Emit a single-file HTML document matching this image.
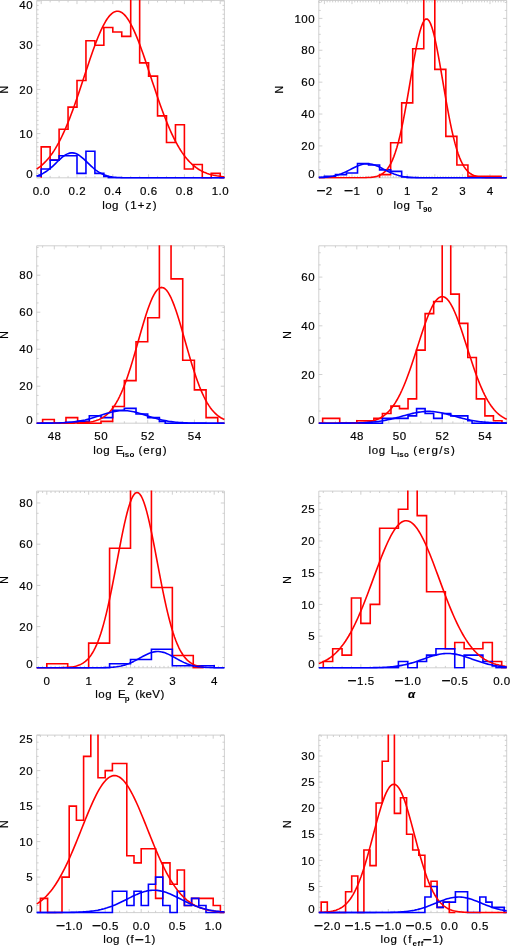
<!DOCTYPE html>
<html lang="en">
<head>
<meta charset="utf-8">
<title>Distributions</title>
<style>
html,body{margin:0;padding:0;background:#fff;}
body{width:510px;height:947px;overflow:hidden;}
svg{display:block;}
</style>
</head>
<body>
<svg width="510" height="947" viewBox="0 0 510 947">
<rect x="0" y="0" width="510" height="947" fill="#ffffff"/>
<defs>
<clipPath id="c0"><rect x="35.7" y="0" width="189.7" height="178.8"/></clipPath>
<clipPath id="c1"><rect x="317.8" y="0" width="189.9" height="178.8"/></clipPath>
<clipPath id="c2"><rect x="35.7" y="245.3" width="189.7" height="178.9"/></clipPath>
<clipPath id="c3"><rect x="317.8" y="245.3" width="189.9" height="178.9"/></clipPath>
<clipPath id="c4"><rect x="35.7" y="490.6" width="189.7" height="178.2"/></clipPath>
<clipPath id="c5"><rect x="317.8" y="490.6" width="189.9" height="178.2"/></clipPath>
<clipPath id="c6"><rect x="35.7" y="734.6" width="189.7" height="179"/></clipPath>
<clipPath id="c7"><rect x="317.8" y="734.6" width="189.9" height="179"/></clipPath>
</defs>
<g id="panel1">
<path d="M36.7 0.5H224.4V177.8H36.7ZM41.2 177.8v-3.6M41.2 0.5v3.6M50.15 177.8v-1.9M50.15 0.5v1.9M59.1 177.8v-1.9M59.1 0.5v1.9M68.05 177.8v-1.9M68.05 0.5v1.9M77 177.8v-3.6M77 0.5v3.6M85.95 177.8v-1.9M85.95 0.5v1.9M94.9 177.8v-1.9M94.9 0.5v1.9M103.85 177.8v-1.9M103.85 0.5v1.9M112.8 177.8v-3.6M112.8 0.5v3.6M121.75 177.8v-1.9M121.75 0.5v1.9M130.7 177.8v-1.9M130.7 0.5v1.9M139.65 177.8v-1.9M139.65 0.5v1.9M148.6 177.8v-3.6M148.6 0.5v3.6M157.55 177.8v-1.9M157.55 0.5v1.9M166.5 177.8v-1.9M166.5 0.5v1.9M175.45 177.8v-1.9M175.45 0.5v1.9M184.4 177.8v-3.6M184.4 0.5v3.6M193.35 177.8v-1.9M193.35 0.5v1.9M202.3 177.8v-1.9M202.3 0.5v1.9M211.25 177.8v-1.9M211.25 0.5v1.9M220.2 177.8v-3.6M220.2 0.5v3.6M36.7 177.8h3.6M224.4 177.8h-3.6M36.7 173.38h1.9M224.4 173.38h-1.9M36.7 168.96h1.9M224.4 168.96h-1.9M36.7 164.54h1.9M224.4 164.54h-1.9M36.7 160.12h1.9M224.4 160.12h-1.9M36.7 155.7h1.9M224.4 155.7h-1.9M36.7 151.28h1.9M224.4 151.28h-1.9M36.7 146.86h1.9M224.4 146.86h-1.9M36.7 142.44h1.9M224.4 142.44h-1.9M36.7 138.02h1.9M224.4 138.02h-1.9M36.7 133.6h3.6M224.4 133.6h-3.6M36.7 129.18h1.9M224.4 129.18h-1.9M36.7 124.76h1.9M224.4 124.76h-1.9M36.7 120.34h1.9M224.4 120.34h-1.9M36.7 115.92h1.9M224.4 115.92h-1.9M36.7 111.5h1.9M224.4 111.5h-1.9M36.7 107.08h1.9M224.4 107.08h-1.9M36.7 102.66h1.9M224.4 102.66h-1.9M36.7 98.24h1.9M224.4 98.24h-1.9M36.7 93.82h1.9M224.4 93.82h-1.9M36.7 89.4h3.6M224.4 89.4h-3.6M36.7 84.98h1.9M224.4 84.98h-1.9M36.7 80.56h1.9M224.4 80.56h-1.9M36.7 76.14h1.9M224.4 76.14h-1.9M36.7 71.72h1.9M224.4 71.72h-1.9M36.7 67.3h1.9M224.4 67.3h-1.9M36.7 62.88h1.9M224.4 62.88h-1.9M36.7 58.46h1.9M224.4 58.46h-1.9M36.7 54.04h1.9M224.4 54.04h-1.9M36.7 49.62h1.9M224.4 49.62h-1.9M36.7 45.2h3.6M224.4 45.2h-3.6M36.7 40.78h1.9M224.4 40.78h-1.9M36.7 36.36h1.9M224.4 36.36h-1.9M36.7 31.94h1.9M224.4 31.94h-1.9M36.7 27.52h1.9M224.4 27.52h-1.9M36.7 23.1h1.9M224.4 23.1h-1.9M36.7 18.68h1.9M224.4 18.68h-1.9M36.7 14.26h1.9M224.4 14.26h-1.9M36.7 9.84h1.9M224.4 9.84h-1.9M36.7 5.42h1.9M224.4 5.42h-1.9M36.7 1h3.6M224.4 1h-3.6" fill="none" stroke="#c8c8c8" stroke-width="0.85"/>
<g clip-path="url(#c0)" fill="none" stroke-width="1.6" stroke-linejoin="miter">
<path d="M41.2 177.8V146.86H50.15V160.12H59.1V129.18H68.05V107.08H77V80.56H85.95V40.78H94.9V45.2H103.85V27.52H112.8V31.94H121.75V36.36H130.7V-21.6H139.65V62.88H148.6V76.14H157.55V115.92H166.5V142.44H175.45V124.76H184.4V168.96H193.35V164.54H202.3V177.8H211.25V173.38H220.2V177.8H224.4" stroke="#ff0000"/>
<path d="M36.7 176.03H41.2V168.96H50.15V160.12H59.1V155.7H68.05V155.7H77V173.38H85.95V151.28H94.9V173.38H103.85V176.47H108.33V177.8H112.8V177.8H121.75V177.8H130.7V177.8H139.65V177.8H148.6V177.8H157.55V177.8H166.5V177.8H175.45V177.8H184.4V177.8H193.35V177.8H202.3V177.8H211.25V177.8H220.2V177.8H224.4" stroke="#0000ff"/>
<path d="M36.7 169L38.26 167.95L39.83 166.8L41.39 165.54L42.96 164.17L44.52 162.67L46.09 161.05L47.65 159.3L49.21 157.4L50.78 155.37L52.34 153.18L53.91 150.84L55.47 148.35L57.03 145.69L58.6 142.87L60.16 139.89L61.73 136.74L63.29 133.43L64.86 129.96L66.42 126.33L67.98 122.55L69.55 118.62L71.11 114.55L72.68 110.35L74.24 106.03L75.8 101.6L77.37 97.08L78.93 92.48L80.5 87.81L82.06 83.1L83.62 78.36L85.19 73.61L86.75 68.88L88.32 64.18L89.88 59.54L91.45 54.98L93.01 50.53L94.57 46.21L96.14 42.04L97.7 38.05L99.27 34.26L100.83 30.69L102.4 27.37L103.96 24.31L105.52 21.53L107.09 19.05L108.65 16.89L110.22 15.06L111.78 13.57L113.34 12.43L114.91 11.65L116.47 11.24L118.04 11.19L119.6 11.51L121.17 12.2L122.73 13.24L124.29 14.65L125.86 16.39L127.42 18.47L128.99 20.87L130.55 23.57L132.11 26.56L133.68 29.82L135.24 33.33L136.81 37.07L138.37 41.01L139.94 45.13L141.5 49.42L143.06 53.84L144.63 58.37L146.19 62.99L147.76 67.67L149.32 72.4L150.88 77.14L152.45 81.89L154.01 86.61L155.58 91.29L157.14 95.91L158.71 100.46L160.27 104.91L161.83 109.26L163.4 113.49L164.96 117.59L166.53 121.56L168.09 125.38L169.65 129.05L171.22 132.56L172.78 135.91L174.35 139.1L175.91 142.13L177.48 144.99L179.04 147.68L180.6 150.22L182.17 152.6L183.73 154.83L185.3 156.9L186.86 158.83L188.42 160.62L189.99 162.27L191.55 163.8L193.12 165.2L194.68 166.49L196.25 167.67L197.81 168.75L199.37 169.72L200.94 170.61L202.5 171.42L204.07 172.15L205.63 172.8L207.19 173.39L208.76 173.92L210.32 174.39L211.89 174.82L213.45 175.19L215.01 175.52L216.58 175.82L218.14 176.08L219.71 176.31L221.27 176.51L222.84 176.69L224.4 176.84" stroke="#ff0000" stroke-linejoin="round"/>
<path d="M36.7 175.88L38.26 175.41L39.83 174.84L41.39 174.17L42.96 173.41L44.52 172.53L46.09 171.54L47.65 170.44L49.21 169.23L50.78 167.92L52.34 166.53L53.91 165.07L55.47 163.57L57.03 162.05L58.6 160.54L60.16 159.08L61.73 157.7L63.29 156.43L64.86 155.31L66.42 154.37L67.98 153.64L69.55 153.13L71.11 152.87L72.68 152.85L74.24 153.09L75.8 153.57L77.37 154.27L78.93 155.19L80.5 156.29L82.06 157.54L83.62 158.91L85.19 160.36L86.75 161.87L88.32 163.39L89.88 164.89L91.45 166.36L93.01 167.76L94.57 169.08L96.14 170.3L97.7 171.41L99.27 172.41L100.83 173.31L102.4 174.09L103.96 174.76L105.52 175.34L107.09 175.83L108.65 176.24L110.22 176.57L111.78 176.85L113.34 177.07L114.91 177.24L116.47 177.38L118.04 177.48L119.6 177.57L121.17 177.63L122.73 177.68L124.29 177.71L125.86 177.74L127.42 177.76L128.99 177.77L130.55 177.78L132.11 177.79L133.68 177.79L135.24 177.79L136.81 177.8L138.37 177.8L139.94 177.8L141.5 177.8L143.06 177.8L144.63 177.8L146.19 177.8L147.76 177.8L149.32 177.8L150.88 177.8L152.45 177.8L154.01 177.8L155.58 177.8L157.14 177.8L158.71 177.8L160.27 177.8L161.83 177.8L163.4 177.8L164.96 177.8L166.53 177.8L168.09 177.8L169.65 177.8L171.22 177.8L172.78 177.8L174.35 177.8L175.91 177.8L177.48 177.8L179.04 177.8L180.6 177.8L182.17 177.8L183.73 177.8L185.3 177.8L186.86 177.8L188.42 177.8L189.99 177.8L191.55 177.8L193.12 177.8L194.68 177.8L196.25 177.8L197.81 177.8L199.37 177.8L200.94 177.8L202.5 177.8L204.07 177.8L205.63 177.8L207.19 177.8L208.76 177.8L210.32 177.8L211.89 177.8L213.45 177.8L215.01 177.8L216.58 177.8L218.14 177.8L219.71 177.8L221.27 177.8L222.84 177.8L224.4 177.8" stroke="#0000ff" stroke-linejoin="round"/>
</g>
<g fill="#000000" stroke="#000000" stroke-width="0.18" font-family="'Liberation Sans', sans-serif" font-size="11.5">
<text x="33.15" y="178.17" text-anchor="end" letter-spacing="0.55">0</text>
<text x="33.15" y="137.72" text-anchor="end" letter-spacing="0.55">10</text>
<text x="33.15" y="93.52" text-anchor="end" letter-spacing="0.55">20</text>
<text x="33.15" y="49.32" text-anchor="end" letter-spacing="0.55">30</text>
<text x="33.15" y="9.02" text-anchor="end" letter-spacing="0.55">40</text>
<text x="32.66" y="194.8" letter-spacing="0.55">0.0</text>
<text x="68.46" y="194.8" letter-spacing="0.55">0.2</text>
<text x="104.26" y="194.8" letter-spacing="0.55">0.4</text>
<text x="140.06" y="194.8" letter-spacing="0.55">0.6</text>
<text x="175.86" y="194.8" letter-spacing="0.55">0.8</text>
<text x="211.66" y="194.8" letter-spacing="0.55">1.0</text>
<text transform="translate(7.92 89.65) rotate(-90) scale(0.9 1)" text-anchor="middle">N</text>
<text y="209.3"><tspan x="102.31" letter-spacing="0.37">log</tspan><tspan x="125.11" letter-spacing="1.25">(1+z)</tspan></text>
</g>
</g>
<g id="panel2">
<path d="M318.8 0.5H506.7V177.8H318.8ZM318.88 177.8v-1.9M318.88 0.5v1.9M321.64 177.8v-1.9M321.64 0.5v1.9M324.4 177.8v-3.6M324.4 0.5v3.6M327.16 177.8v-1.9M327.16 0.5v1.9M329.92 177.8v-1.9M329.92 0.5v1.9M332.68 177.8v-1.9M332.68 0.5v1.9M335.44 177.8v-1.9M335.44 0.5v1.9M338.2 177.8v-1.9M338.2 0.5v1.9M340.96 177.8v-1.9M340.96 0.5v1.9M343.72 177.8v-1.9M343.72 0.5v1.9M346.48 177.8v-1.9M346.48 0.5v1.9M349.24 177.8v-1.9M349.24 0.5v1.9M352 177.8v-3.6M352 0.5v3.6M354.76 177.8v-1.9M354.76 0.5v1.9M357.52 177.8v-1.9M357.52 0.5v1.9M360.28 177.8v-1.9M360.28 0.5v1.9M363.04 177.8v-1.9M363.04 0.5v1.9M365.8 177.8v-1.9M365.8 0.5v1.9M368.56 177.8v-1.9M368.56 0.5v1.9M371.32 177.8v-1.9M371.32 0.5v1.9M374.08 177.8v-1.9M374.08 0.5v1.9M376.84 177.8v-1.9M376.84 0.5v1.9M379.6 177.8v-3.6M379.6 0.5v3.6M382.36 177.8v-1.9M382.36 0.5v1.9M385.12 177.8v-1.9M385.12 0.5v1.9M387.88 177.8v-1.9M387.88 0.5v1.9M390.64 177.8v-1.9M390.64 0.5v1.9M393.4 177.8v-1.9M393.4 0.5v1.9M396.16 177.8v-1.9M396.16 0.5v1.9M398.92 177.8v-1.9M398.92 0.5v1.9M401.68 177.8v-1.9M401.68 0.5v1.9M404.44 177.8v-1.9M404.44 0.5v1.9M407.2 177.8v-3.6M407.2 0.5v3.6M409.96 177.8v-1.9M409.96 0.5v1.9M412.72 177.8v-1.9M412.72 0.5v1.9M415.48 177.8v-1.9M415.48 0.5v1.9M418.24 177.8v-1.9M418.24 0.5v1.9M421 177.8v-1.9M421 0.5v1.9M423.76 177.8v-1.9M423.76 0.5v1.9M426.52 177.8v-1.9M426.52 0.5v1.9M429.28 177.8v-1.9M429.28 0.5v1.9M432.04 177.8v-1.9M432.04 0.5v1.9M434.8 177.8v-3.6M434.8 0.5v3.6M437.56 177.8v-1.9M437.56 0.5v1.9M440.32 177.8v-1.9M440.32 0.5v1.9M443.08 177.8v-1.9M443.08 0.5v1.9M445.84 177.8v-1.9M445.84 0.5v1.9M448.6 177.8v-1.9M448.6 0.5v1.9M451.36 177.8v-1.9M451.36 0.5v1.9M454.12 177.8v-1.9M454.12 0.5v1.9M456.88 177.8v-1.9M456.88 0.5v1.9M459.64 177.8v-1.9M459.64 0.5v1.9M462.4 177.8v-3.6M462.4 0.5v3.6M465.16 177.8v-1.9M465.16 0.5v1.9M467.92 177.8v-1.9M467.92 0.5v1.9M470.68 177.8v-1.9M470.68 0.5v1.9M473.44 177.8v-1.9M473.44 0.5v1.9M476.2 177.8v-1.9M476.2 0.5v1.9M478.96 177.8v-1.9M478.96 0.5v1.9M481.72 177.8v-1.9M481.72 0.5v1.9M484.48 177.8v-1.9M484.48 0.5v1.9M487.24 177.8v-1.9M487.24 0.5v1.9M490 177.8v-3.6M490 0.5v3.6M492.76 177.8v-1.9M492.76 0.5v1.9M495.52 177.8v-1.9M495.52 0.5v1.9M498.28 177.8v-1.9M498.28 0.5v1.9M501.04 177.8v-1.9M501.04 0.5v1.9M503.8 177.8v-1.9M503.8 0.5v1.9M506.56 177.8v-1.9M506.56 0.5v1.9M318.8 177.8h3.6M506.7 177.8h-3.6M318.8 169.83h1.9M506.7 169.83h-1.9M318.8 161.86h1.9M506.7 161.86h-1.9M318.8 153.89h1.9M506.7 153.89h-1.9M318.8 145.92h3.6M506.7 145.92h-3.6M318.8 137.95h1.9M506.7 137.95h-1.9M318.8 129.98h1.9M506.7 129.98h-1.9M318.8 122.01h1.9M506.7 122.01h-1.9M318.8 114.04h3.6M506.7 114.04h-3.6M318.8 106.07h1.9M506.7 106.07h-1.9M318.8 98.1h1.9M506.7 98.1h-1.9M318.8 90.13h1.9M506.7 90.13h-1.9M318.8 82.16h3.6M506.7 82.16h-3.6M318.8 74.19h1.9M506.7 74.19h-1.9M318.8 66.22h1.9M506.7 66.22h-1.9M318.8 58.25h1.9M506.7 58.25h-1.9M318.8 50.28h3.6M506.7 50.28h-3.6M318.8 42.31h1.9M506.7 42.31h-1.9M318.8 34.34h1.9M506.7 34.34h-1.9M318.8 26.37h1.9M506.7 26.37h-1.9M318.8 18.4h3.6M506.7 18.4h-3.6M318.8 10.43h1.9M506.7 10.43h-1.9M318.8 2.46h1.9M506.7 2.46h-1.9" fill="none" stroke="#c8c8c8" stroke-width="0.85"/>
<g clip-path="url(#c1)" fill="none" stroke-width="1.6" stroke-linejoin="miter">
<path d="M379.6 177.8V174.61H390.64V142.73H401.68V102.88H412.72V48.69H423.76V-7.47H434.8V69.41H445.84V136.36H456.88V165.05H467.92V176.21H478.96V176.21H490V176.21H501.04V177.8H506.7" stroke="#ff0000"/>
<path d="M318.8 177.4H324.4V176.21H335.44V174.61H346.48V173.02H357.52V163.45H368.56V165.05H379.6V169.83H390.64V171.42H401.68V177H407.2V177.8H412.72V177.8H423.76V177.8H434.8V177.8H445.84V177.8H456.88V177.8H467.92V177.8H478.96V177.8H490V177.8H501.04V177.8H506.7" stroke="#0000ff"/>
<path d="M318.88 177.8L320.41 177.8L321.94 177.8L323.47 177.8L325 177.8L326.53 177.8L328.06 177.8L329.59 177.8L331.12 177.8L332.65 177.8L334.18 177.8L335.7 177.8L337.23 177.8L338.76 177.8L340.29 177.8L341.82 177.8L343.35 177.8L344.88 177.8L346.41 177.8L347.94 177.8L349.47 177.8L351 177.8L352.53 177.79L354.06 177.79L355.59 177.79L357.12 177.78L358.65 177.77L360.18 177.76L361.71 177.74L363.24 177.72L364.77 177.68L366.29 177.63L367.82 177.56L369.35 177.47L370.88 177.34L372.41 177.16L373.94 176.93L375.47 176.63L377 176.24L378.53 175.73L380.06 175.09L381.59 174.27L383.12 173.24L384.65 171.97L386.18 170.41L387.71 168.52L389.24 166.24L390.77 163.53L392.3 160.34L393.83 156.62L395.36 152.34L396.88 147.46L398.41 141.97L399.94 135.84L401.47 129.11L403 121.79L404.53 113.93L406.06 105.62L407.59 96.93L409.12 88L410.65 78.96L412.18 69.96L413.71 61.18L415.24 52.79L416.77 44.97L418.3 37.9L419.83 31.75L421.36 26.67L422.89 22.79L424.42 20.2L425.95 18.98L427.47 19.15L429 20.72L430.53 23.63L432.06 27.82L433.59 33.18L435.12 39.57L436.65 46.84L438.18 54.82L439.71 63.33L441.24 72.18L442.77 81.2L444.3 90.23L445.83 99.12L447.36 107.72L448.89 115.93L450.42 123.66L451.95 130.84L453.48 137.42L455.01 143.39L456.54 148.73L458.06 153.46L459.59 157.6L461.12 161.18L462.65 164.25L464.18 166.85L465.71 169.02L467.24 170.83L468.77 172.31L470.3 173.52L471.83 174.49L473.36 175.26L474.89 175.87L476.42 176.35L477.95 176.72L479.48 177L481.01 177.21L482.54 177.37L484.07 177.49L485.6 177.58L487.12 177.64L488.65 177.69L490.18 177.72L491.71 177.75L493.24 177.76L494.77 177.78L496.3 177.78L497.83 177.79L499.36 177.79L500.89 177.8L502.42 177.8" stroke="#ff0000" stroke-linejoin="round"/>
<path d="M318.88 177.61L320.45 177.54L322.01 177.47L323.58 177.37L325.14 177.25L326.71 177.11L328.27 176.93L329.84 176.72L331.4 176.46L332.97 176.17L334.53 175.82L336.1 175.43L337.66 174.98L339.23 174.47L340.79 173.91L342.36 173.3L343.92 172.63L345.49 171.92L347.05 171.17L348.62 170.39L350.18 169.59L351.75 168.78L353.31 167.99L354.88 167.22L356.44 166.49L358.01 165.82L359.57 165.23L361.14 164.72L362.7 164.31L364.27 164.01L365.84 163.83L367.4 163.77L368.97 163.84L370.53 164.03L372.1 164.34L373.66 164.76L375.23 165.28L376.79 165.89L378.36 166.57L379.92 167.3L381.49 168.07L383.05 168.87L384.62 169.67L386.18 170.47L387.75 171.25L389.31 171.99L390.88 172.7L392.44 173.36L394.01 173.97L395.57 174.53L397.14 175.03L398.7 175.47L400.27 175.86L401.83 176.2L403.4 176.49L404.96 176.74L406.53 176.95L408.09 177.12L409.66 177.27L411.22 177.38L412.79 177.48L414.36 177.55L415.92 177.61L417.49 177.66L419.05 177.69L420.62 177.72L422.18 177.74L423.75 177.76L425.31 177.77L426.88 177.78L428.44 177.78L430.01 177.79L431.57 177.79L433.14 177.79L434.7 177.8L436.27 177.8L437.83 177.8L439.4 177.8L440.96 177.8L442.53 177.8L444.09 177.8L445.66 177.8L447.22 177.8L448.79 177.8L450.35 177.8L451.92 177.8L453.48 177.8L455.05 177.8L456.61 177.8L458.18 177.8L459.75 177.8L461.31 177.8L462.88 177.8L464.44 177.8L466.01 177.8L467.57 177.8L469.14 177.8L470.7 177.8L472.27 177.8L473.83 177.8L475.4 177.8L476.96 177.8L478.53 177.8L480.09 177.8L481.66 177.8L483.22 177.8L484.79 177.8L486.35 177.8L487.92 177.8L489.48 177.8L491.05 177.8L492.61 177.8L494.18 177.8L495.74 177.8L497.31 177.8L498.87 177.8L500.44 177.8L502 177.8L503.57 177.8L505.13 177.8L506.7 177.8" stroke="#0000ff" stroke-linejoin="round"/>
</g>
<g fill="#000000" stroke="#000000" stroke-width="0.18" font-family="'Liberation Sans', sans-serif" font-size="11.5">
<text x="315.25" y="178.17" text-anchor="end" letter-spacing="0.55">0</text>
<text x="315.25" y="150.04" text-anchor="end" letter-spacing="0.55">20</text>
<text x="315.25" y="118.16" text-anchor="end" letter-spacing="0.55">40</text>
<text x="315.25" y="86.28" text-anchor="end" letter-spacing="0.55">60</text>
<text x="315.25" y="54.4" text-anchor="end" letter-spacing="0.55">80</text>
<text x="315.25" y="22.52" text-anchor="end" letter-spacing="0.55">100</text>
<text x="316.25" y="194.8" letter-spacing="0.55"><tspan font-size="16" dy="1.35" letter-spacing="0.26">−</tspan><tspan dy="-1.35">2</tspan></text>
<text x="343.85" y="194.8" letter-spacing="0.55"><tspan font-size="16" dy="1.35" letter-spacing="0.26">−</tspan><tspan dy="-1.35">1</tspan></text>
<text x="376.4" y="194.8" letter-spacing="0.55">0</text>
<text x="404" y="194.8" letter-spacing="0.55">1</text>
<text x="431.6" y="194.8" letter-spacing="0.55">2</text>
<text x="459.2" y="194.8" letter-spacing="0.55">3</text>
<text x="486.8" y="194.8" letter-spacing="0.55">4</text>
<text transform="translate(283.42 89.65) rotate(-90) scale(0.9 1)" text-anchor="middle">N</text>
<text y="209.3"><tspan x="393.41" letter-spacing="0.54">log</tspan><tspan x="416.51" letter-spacing="0">T</tspan><tspan x="423.02" dy="2.7" font-size="8" font-weight="bold" stroke="none" letter-spacing="-0.01">90</tspan></text>
</g>
</g>
<g id="panel3">
<path d="M36.7 245.8H224.4V423.2H36.7ZM42.62 423.2v-1.9M42.62 245.8v1.9M54.3 423.2v-3.6M54.3 245.8v3.6M65.97 423.2v-1.9M65.97 245.8v1.9M77.65 423.2v-1.9M77.65 245.8v1.9M89.32 423.2v-1.9M89.32 245.8v1.9M101 423.2v-3.6M101 245.8v3.6M112.67 423.2v-1.9M112.67 245.8v1.9M124.35 423.2v-1.9M124.35 245.8v1.9M136.02 423.2v-1.9M136.02 245.8v1.9M147.7 423.2v-3.6M147.7 245.8v3.6M159.38 423.2v-1.9M159.38 245.8v1.9M171.05 423.2v-1.9M171.05 245.8v1.9M182.72 423.2v-1.9M182.72 245.8v1.9M194.4 423.2v-3.6M194.4 245.8v3.6M206.07 423.2v-1.9M206.07 245.8v1.9M217.75 423.2v-1.9M217.75 245.8v1.9M36.7 423.2h3.6M224.4 423.2h-3.6M36.7 413.95h1.9M224.4 413.95h-1.9M36.7 404.7h1.9M224.4 404.7h-1.9M36.7 395.45h1.9M224.4 395.45h-1.9M36.7 386.2h3.6M224.4 386.2h-3.6M36.7 376.95h1.9M224.4 376.95h-1.9M36.7 367.7h1.9M224.4 367.7h-1.9M36.7 358.45h1.9M224.4 358.45h-1.9M36.7 349.2h3.6M224.4 349.2h-3.6M36.7 339.95h1.9M224.4 339.95h-1.9M36.7 330.7h1.9M224.4 330.7h-1.9M36.7 321.45h1.9M224.4 321.45h-1.9M36.7 312.2h3.6M224.4 312.2h-3.6M36.7 302.95h1.9M224.4 302.95h-1.9M36.7 293.7h1.9M224.4 293.7h-1.9M36.7 284.45h1.9M224.4 284.45h-1.9M36.7 275.2h3.6M224.4 275.2h-3.6M36.7 265.95h1.9M224.4 265.95h-1.9M36.7 256.7h1.9M224.4 256.7h-1.9M36.7 247.45h1.9M224.4 247.45h-1.9" fill="none" stroke="#c8c8c8" stroke-width="0.85"/>
<g clip-path="url(#c2)" fill="none" stroke-width="1.6" stroke-linejoin="miter">
<path d="M42.62 423.2V419.5H54.3V423.2H65.97V417.65H77.65V423.2H89.32V423.2H101V421.35H112.67V406.55H124.35V380.65H136.02V341.8H147.7V317.75H159.38V236.55H171.05V278.9H182.72V360.3H194.4V389.9H206.07V417.65H217.75V423.2H224.4" stroke="#ff0000"/>
<path d="M36.7 423.2H42.62V423.2H54.3V423.2H65.97V422.27H77.65V421.35H89.32V415.8H101V417.65H112.67V410.25H124.35V408.4H136.02V413.95H147.7V417.65H159.38V421.35H165.21V423.2H171.05V423.2H182.72V423.2H194.4V423.2H206.07V423.2H217.75V423.2H224.4" stroke="#0000ff"/>
<path d="M36.7 423.2L38.26 423.2L39.83 423.2L41.39 423.2L42.96 423.2L44.52 423.2L46.08 423.2L47.65 423.2L49.21 423.2L50.78 423.2L52.34 423.2L53.91 423.2L55.47 423.2L57.03 423.19L58.6 423.19L60.16 423.19L61.73 423.19L63.29 423.18L64.85 423.18L66.42 423.17L67.98 423.16L69.55 423.14L71.11 423.13L72.68 423.11L74.24 423.08L75.8 423.04L77.37 423L78.93 422.95L80.5 422.88L82.06 422.8L83.62 422.69L85.19 422.57L86.75 422.41L88.32 422.23L89.88 422L91.45 421.73L93.01 421.41L94.57 421.02L96.14 420.57L97.7 420.03L99.27 419.4L100.83 418.66L102.4 417.81L103.96 416.82L105.52 415.69L107.09 414.4L108.65 412.93L110.22 411.27L111.78 409.4L113.34 407.31L114.91 404.98L116.47 402.41L118.04 399.58L119.6 396.49L121.17 393.13L122.73 389.5L124.29 385.59L125.86 381.42L127.42 377L128.99 372.34L130.55 367.46L132.11 362.38L133.68 357.14L135.24 351.77L136.81 346.31L138.37 340.8L139.93 335.29L141.5 329.84L143.06 324.48L144.63 319.29L146.19 314.32L147.76 309.62L149.32 305.24L150.88 301.25L152.45 297.68L154.01 294.59L155.58 292.01L157.14 289.99L158.7 288.53L160.27 287.67L161.83 287.41L163.4 287.76L164.96 288.72L166.53 290.27L168.09 292.39L169.65 295.05L171.22 298.21L172.78 301.85L174.35 305.91L175.91 310.34L177.47 315.09L179.04 320.1L180.6 325.32L182.17 330.69L183.73 336.16L185.3 341.67L186.86 347.18L188.42 352.63L189.99 357.98L191.55 363.2L193.12 368.24L194.68 373.09L196.25 377.72L197.81 382.1L199.37 386.23L200.94 390.09L202.5 393.68L204.07 397L205.63 400.05L207.19 402.83L208.76 405.37L210.32 407.65L211.89 409.71L213.45 411.54L215.02 413.17L216.58 414.61L218.14 415.88L219.71 416.99L221.27 417.95L222.84 418.79L224.4 419.5" stroke="#ff0000" stroke-linejoin="round"/>
<path d="M36.7 423.19L38.26 423.18L39.83 423.18L41.39 423.17L42.96 423.17L44.52 423.16L46.08 423.15L47.65 423.13L49.21 423.12L50.78 423.1L52.34 423.08L53.91 423.05L55.47 423.02L57.03 422.98L58.6 422.93L60.16 422.88L61.73 422.82L63.29 422.74L64.85 422.66L66.42 422.56L67.98 422.45L69.55 422.32L71.11 422.18L72.68 422.01L74.24 421.83L75.8 421.63L77.37 421.4L78.93 421.15L80.5 420.88L82.06 420.58L83.62 420.25L85.19 419.91L86.75 419.53L88.32 419.14L89.88 418.71L91.45 418.27L93.01 417.81L94.57 417.33L96.14 416.84L97.7 416.34L99.27 415.83L100.83 415.32L102.4 414.81L103.96 414.31L105.52 413.82L107.09 413.35L108.65 412.9L110.22 412.48L111.78 412.09L113.34 411.74L114.91 411.43L116.47 411.16L118.04 410.95L119.6 410.79L121.17 410.68L122.73 410.63L124.29 410.63L125.86 410.69L127.42 410.8L128.99 410.97L130.55 411.19L132.11 411.46L133.68 411.78L135.24 412.13L136.81 412.53L138.37 412.95L139.93 413.41L141.5 413.88L143.06 414.37L144.63 414.87L146.19 415.38L147.76 415.89L149.32 416.4L150.88 416.9L152.45 417.39L154.01 417.87L155.58 418.33L157.14 418.77L158.7 419.18L160.27 419.58L161.83 419.95L163.4 420.3L164.96 420.62L166.53 420.91L168.09 421.18L169.65 421.43L171.22 421.65L172.78 421.85L174.35 422.03L175.91 422.2L177.47 422.34L179.04 422.46L180.6 422.57L182.17 422.67L183.73 422.75L185.3 422.82L186.86 422.89L188.42 422.94L189.99 422.98L191.55 423.02L193.12 423.05L194.68 423.08L196.25 423.1L197.81 423.12L199.37 423.14L200.94 423.15L202.5 423.16L204.07 423.17L205.63 423.17L207.19 423.18L208.76 423.18L210.32 423.19L211.89 423.19L213.45 423.19L215.02 423.19L216.58 423.2L218.14 423.2L219.71 423.2L221.27 423.2L222.84 423.2L224.4 423.2" stroke="#0000ff" stroke-linejoin="round"/>
</g>
<g fill="#000000" stroke="#000000" stroke-width="0.18" font-family="'Liberation Sans', sans-serif" font-size="11.5">
<text x="33.15" y="423.57" text-anchor="end" letter-spacing="0.55">0</text>
<text x="33.15" y="390.32" text-anchor="end" letter-spacing="0.55">20</text>
<text x="33.15" y="353.32" text-anchor="end" letter-spacing="0.55">40</text>
<text x="33.15" y="316.32" text-anchor="end" letter-spacing="0.55">60</text>
<text x="33.15" y="279.32" text-anchor="end" letter-spacing="0.55">80</text>
<text x="47.63" y="440.2" letter-spacing="0.55">48</text>
<text x="94.33" y="440.2" letter-spacing="0.55">50</text>
<text x="141.03" y="440.2" letter-spacing="0.55">52</text>
<text x="187.73" y="440.2" letter-spacing="0.55">54</text>
<text transform="translate(7.92 335) rotate(-90) scale(0.9 1)" text-anchor="middle">N</text>
<text y="454.2"><tspan x="93.21" letter-spacing="0.54">log</tspan><tspan x="115.71" letter-spacing="0">E</tspan><tspan x="122.42" dy="2.7" font-size="8" font-weight="bold" stroke="none" letter-spacing="0.15">iso</tspan><tspan x="138.41" dy="-2.7" letter-spacing="0.96">(erg)</tspan></text>
</g>
</g>
<g id="panel4">
<path d="M318.8 245.8H506.7V423.2H318.8ZM324.77 423.2v-1.9M324.77 245.8v1.9M335.45 423.2v-1.9M335.45 245.8v1.9M346.12 423.2v-1.9M346.12 245.8v1.9M356.8 423.2v-3.6M356.8 245.8v3.6M367.47 423.2v-1.9M367.47 245.8v1.9M378.15 423.2v-1.9M378.15 245.8v1.9M388.82 423.2v-1.9M388.82 245.8v1.9M399.5 423.2v-3.6M399.5 245.8v3.6M410.17 423.2v-1.9M410.17 245.8v1.9M420.85 423.2v-1.9M420.85 245.8v1.9M431.52 423.2v-1.9M431.52 245.8v1.9M442.2 423.2v-3.6M442.2 245.8v3.6M452.88 423.2v-1.9M452.88 245.8v1.9M463.55 423.2v-1.9M463.55 245.8v1.9M474.23 423.2v-1.9M474.23 245.8v1.9M484.9 423.2v-3.6M484.9 245.8v3.6M495.57 423.2v-1.9M495.57 245.8v1.9M506.25 423.2v-1.9M506.25 245.8v1.9M318.8 423.2h3.6M506.7 423.2h-3.6M318.8 411.02h1.9M506.7 411.02h-1.9M318.8 398.85h1.9M506.7 398.85h-1.9M318.8 386.68h1.9M506.7 386.68h-1.9M318.8 374.5h3.6M506.7 374.5h-3.6M318.8 362.32h1.9M506.7 362.32h-1.9M318.8 350.15h1.9M506.7 350.15h-1.9M318.8 337.97h1.9M506.7 337.97h-1.9M318.8 325.8h3.6M506.7 325.8h-3.6M318.8 313.62h1.9M506.7 313.62h-1.9M318.8 301.45h1.9M506.7 301.45h-1.9M318.8 289.27h1.9M506.7 289.27h-1.9M318.8 277.1h3.6M506.7 277.1h-3.6M318.8 264.92h1.9M506.7 264.92h-1.9M318.8 252.75h1.9M506.7 252.75h-1.9" fill="none" stroke="#c8c8c8" stroke-width="0.85"/>
<g clip-path="url(#c3)" fill="none" stroke-width="1.6" stroke-linejoin="miter">
<path d="M322.64 423.2V418.33H331.18V418.33H339.72V423.2H348.26V423.2H356.8V420.76H365.34V420.76H373.88V418.33H382.42V413.46H390.96V406.15H399.5V408.59H408.04V398.85H416.58V350.15H425.12V313.62H433.66V301.45H442.2V233.63H450.74V294.14H459.28V323.37H467.82V357.45H476.36V398.85H484.9V415.89H493.44V420.76H501.98V423.2H506.7" stroke="#ff0000"/>
<path d="M318.8 423.2H322.64V423.2H331.18V423.2H339.72V423.2H348.26V423.2H356.8V423.2H365.34V423.2H373.88V423.2H382.42V418.33H390.96V418.33H399.5V418.33H408.04V415.89H416.58V408.59H425.12V413.46H433.66V418.33H442.2V413.46H450.74V415.89H459.28V415.89H467.82V420.76H472.09V423.2H476.36V423.2H484.9V423.2H493.44V423.2H501.98V423.2H506.7" stroke="#0000ff"/>
<path d="M318.8 423.2L320.37 423.2L321.93 423.2L323.5 423.2L325.06 423.2L326.63 423.2L328.2 423.2L329.76 423.2L331.33 423.2L332.89 423.19L334.46 423.19L336.02 423.19L337.59 423.19L339.16 423.18L340.72 423.18L342.29 423.17L343.85 423.16L345.42 423.15L346.99 423.13L348.55 423.11L350.12 423.09L351.68 423.06L353.25 423.02L354.81 422.98L356.38 422.92L357.95 422.85L359.51 422.76L361.08 422.66L362.64 422.54L364.21 422.38L365.77 422.2L367.34 421.99L368.91 421.73L370.47 421.42L372.04 421.07L373.6 420.64L375.17 420.15L376.74 419.58L378.3 418.92L379.87 418.15L381.43 417.28L383 416.28L384.56 415.15L386.13 413.87L387.7 412.42L389.26 410.81L390.83 409.01L392.39 407.02L393.96 404.82L395.53 402.41L397.09 399.78L398.66 396.92L400.22 393.84L401.79 390.52L403.35 386.98L404.92 383.21L406.49 379.24L408.05 375.06L409.62 370.71L411.18 366.19L412.75 361.53L414.32 356.76L415.88 351.92L417.45 347.03L419.01 342.13L420.58 337.28L422.15 332.5L423.71 327.84L425.28 323.35L426.84 319.08L428.41 315.06L429.97 311.34L431.54 307.97L433.11 304.97L434.67 302.39L436.24 300.26L437.8 298.59L439.37 297.42L440.94 296.75L442.5 296.59L444.07 296.95L445.63 297.81L447.2 299.18L448.76 301.03L450.33 303.33L451.9 306.08L453.46 309.22L455.03 312.73L456.59 316.57L458.16 320.69L459.72 325.05L461.29 329.61L462.86 334.32L464.42 339.14L465.99 344.01L467.55 348.91L469.12 353.78L470.69 358.6L472.25 363.33L473.82 367.94L475.38 372.4L476.95 376.69L478.51 380.79L480.08 384.69L481.65 388.37L483.21 391.82L484.78 395.05L486.34 398.05L487.91 400.82L489.48 403.37L491.04 405.69L492.61 407.81L494.17 409.73L495.74 411.45L497.3 413L498.87 414.38L500.44 415.6L502 416.68L503.57 417.63L505.13 418.46L506.7 419.18" stroke="#ff0000" stroke-linejoin="round"/>
<path d="M318.8 423.2L320.37 423.2L321.93 423.2L323.5 423.2L325.06 423.2L326.63 423.2L328.2 423.19L329.76 423.19L331.33 423.19L332.89 423.19L334.46 423.19L336.02 423.18L337.59 423.18L339.16 423.17L340.72 423.17L342.29 423.16L343.85 423.15L345.42 423.14L346.99 423.12L348.55 423.11L350.12 423.09L351.68 423.07L353.25 423.04L354.81 423.01L356.38 422.97L357.95 422.93L359.51 422.88L361.08 422.82L362.64 422.76L364.21 422.68L365.77 422.6L367.34 422.5L368.91 422.4L370.47 422.28L372.04 422.14L373.6 421.99L375.17 421.83L376.74 421.64L378.3 421.44L379.87 421.23L381.43 420.99L383 420.73L384.56 420.45L386.13 420.16L387.7 419.84L389.26 419.51L390.83 419.15L392.39 418.78L393.96 418.4L395.53 418L397.09 417.58L398.66 417.16L400.22 416.73L401.79 416.29L403.35 415.85L404.92 415.42L406.49 414.99L408.05 414.56L409.62 414.15L411.18 413.76L412.75 413.38L414.32 413.03L415.88 412.7L417.45 412.41L419.01 412.14L420.58 411.92L422.15 411.73L423.71 411.58L425.28 411.47L426.84 411.41L428.41 411.39L429.97 411.41L431.54 411.48L433.11 411.59L434.67 411.75L436.24 411.94L437.8 412.17L439.37 412.44L440.94 412.74L442.5 413.07L444.07 413.42L445.63 413.8L447.2 414.2L448.76 414.61L450.33 415.03L451.9 415.47L453.46 415.9L455.03 416.34L456.59 416.78L458.16 417.21L459.72 417.63L461.29 418.04L462.86 418.44L464.42 418.82L465.99 419.19L467.55 419.54L469.12 419.88L470.69 420.19L472.25 420.48L473.82 420.76L475.38 421.01L476.95 421.25L478.51 421.47L480.08 421.67L481.65 421.85L483.21 422.01L484.78 422.16L486.34 422.29L487.91 422.41L489.48 422.52L491.04 422.61L492.61 422.69L494.17 422.77L495.74 422.83L497.3 422.89L498.87 422.93L500.44 422.98L502 423.01L503.57 423.04L505.13 423.07L506.7 423.09" stroke="#0000ff" stroke-linejoin="round"/>
</g>
<g fill="#000000" stroke="#000000" stroke-width="0.18" font-family="'Liberation Sans', sans-serif" font-size="11.5">
<text x="315.25" y="423.57" text-anchor="end" letter-spacing="0.55">0</text>
<text x="315.25" y="378.62" text-anchor="end" letter-spacing="0.55">20</text>
<text x="315.25" y="329.92" text-anchor="end" letter-spacing="0.55">40</text>
<text x="315.25" y="281.22" text-anchor="end" letter-spacing="0.55">60</text>
<text x="350.13" y="440.2" letter-spacing="0.55">48</text>
<text x="392.83" y="440.2" letter-spacing="0.55">50</text>
<text x="435.53" y="440.2" letter-spacing="0.55">52</text>
<text x="478.23" y="440.2" letter-spacing="0.55">54</text>
<text transform="translate(290.52 335) rotate(-90) scale(0.9 1)" text-anchor="middle">N</text>
<text y="454.2"><tspan x="368.61" letter-spacing="0.61">log</tspan><tspan x="390.81" letter-spacing="0">L</tspan><tspan x="396.92" dy="2.7" font-size="8" font-weight="bold" stroke="none" letter-spacing="0.15">iso</tspan><tspan x="413.31" dy="-2.7" letter-spacing="1.38">(erg/s)</tspan></text>
</g>
</g>
<g id="panel5">
<path d="M36.7 491.1H224.4V667.8H36.7ZM38.43 667.8v-1.9M38.43 491.1v1.9M42.61 667.8v-1.9M42.61 491.1v1.9M46.8 667.8v-3.6M46.8 491.1v3.6M50.98 667.8v-1.9M50.98 491.1v1.9M55.17 667.8v-1.9M55.17 491.1v1.9M59.35 667.8v-1.9M59.35 491.1v1.9M63.54 667.8v-1.9M63.54 491.1v1.9M67.72 667.8v-1.9M67.72 491.1v1.9M71.91 667.8v-1.9M71.91 491.1v1.9M76.09 667.8v-1.9M76.09 491.1v1.9M80.28 667.8v-1.9M80.28 491.1v1.9M84.47 667.8v-1.9M84.47 491.1v1.9M88.65 667.8v-3.6M88.65 491.1v3.6M92.84 667.8v-1.9M92.84 491.1v1.9M97.02 667.8v-1.9M97.02 491.1v1.9M101.2 667.8v-1.9M101.2 491.1v1.9M105.39 667.8v-1.9M105.39 491.1v1.9M109.58 667.8v-1.9M109.58 491.1v1.9M113.76 667.8v-1.9M113.76 491.1v1.9M117.95 667.8v-1.9M117.95 491.1v1.9M122.13 667.8v-1.9M122.13 491.1v1.9M126.32 667.8v-1.9M126.32 491.1v1.9M130.5 667.8v-3.6M130.5 491.1v3.6M134.69 667.8v-1.9M134.69 491.1v1.9M138.87 667.8v-1.9M138.87 491.1v1.9M143.06 667.8v-1.9M143.06 491.1v1.9M147.24 667.8v-1.9M147.24 491.1v1.9M151.43 667.8v-1.9M151.43 491.1v1.9M155.61 667.8v-1.9M155.61 491.1v1.9M159.8 667.8v-1.9M159.8 491.1v1.9M163.98 667.8v-1.9M163.98 491.1v1.9M168.17 667.8v-1.9M168.17 491.1v1.9M172.35 667.8v-3.6M172.35 491.1v3.6M176.54 667.8v-1.9M176.54 491.1v1.9M180.72 667.8v-1.9M180.72 491.1v1.9M184.91 667.8v-1.9M184.91 491.1v1.9M189.09 667.8v-1.9M189.09 491.1v1.9M193.27 667.8v-1.9M193.27 491.1v1.9M197.46 667.8v-1.9M197.46 491.1v1.9M201.64 667.8v-1.9M201.64 491.1v1.9M205.83 667.8v-1.9M205.83 491.1v1.9M210.02 667.8v-1.9M210.02 491.1v1.9M214.2 667.8v-3.6M214.2 491.1v3.6M218.39 667.8v-1.9M218.39 491.1v1.9M222.57 667.8v-1.9M222.57 491.1v1.9M36.7 667.8h3.6M224.4 667.8h-3.6M36.7 657.5h1.9M224.4 657.5h-1.9M36.7 647.2h1.9M224.4 647.2h-1.9M36.7 636.9h1.9M224.4 636.9h-1.9M36.7 626.6h3.6M224.4 626.6h-3.6M36.7 616.3h1.9M224.4 616.3h-1.9M36.7 606h1.9M224.4 606h-1.9M36.7 595.7h1.9M224.4 595.7h-1.9M36.7 585.4h3.6M224.4 585.4h-3.6M36.7 575.1h1.9M224.4 575.1h-1.9M36.7 564.8h1.9M224.4 564.8h-1.9M36.7 554.5h1.9M224.4 554.5h-1.9M36.7 544.2h3.6M224.4 544.2h-3.6M36.7 533.9h1.9M224.4 533.9h-1.9M36.7 523.6h1.9M224.4 523.6h-1.9M36.7 513.3h1.9M224.4 513.3h-1.9M36.7 503h3.6M224.4 503h-3.6M36.7 492.7h1.9M224.4 492.7h-1.9" fill="none" stroke="#c8c8c8" stroke-width="0.85"/>
<g clip-path="url(#c4)" fill="none" stroke-width="1.6" stroke-linejoin="miter">
<path d="M46.8 667.8V663.68H67.72V667.8H88.65V643.08H109.58V548.32H130.5V480.8H151.43V587.46H172.35V655.44H193.27V667.8H203.74" stroke="#ff0000"/>
<path d="M36.7 667.8H46.8V667.8H67.72V667.8H88.65V667.8H109.58V663.68H130.5V659.56H151.43V649.26H172.35V665.74H193.27V665.74H214.2V667.8H224.4" stroke="#0000ff"/>
<path d="M36.7 667.8L38.09 667.8L39.48 667.8L40.88 667.8L42.27 667.8L43.66 667.8L45.05 667.8L46.44 667.79L47.84 667.79L49.23 667.79L50.62 667.78L52.01 667.78L53.4 667.77L54.8 667.76L56.19 667.75L57.58 667.73L58.97 667.71L60.36 667.68L61.76 667.64L63.15 667.6L64.54 667.54L65.93 667.47L67.32 667.38L68.72 667.26L70.11 667.12L71.5 666.95L72.89 666.74L74.28 666.47L75.68 666.16L77.07 665.78L78.46 665.32L79.85 664.77L81.24 664.11L82.64 663.34L84.03 662.43L85.42 661.37L86.81 660.14L88.2 658.71L89.6 657.06L90.99 655.18L92.38 653.04L93.77 650.62L95.16 647.91L96.56 644.87L97.95 641.49L99.34 637.76L100.73 633.67L102.12 629.2L103.52 624.36L104.91 619.15L106.3 613.57L107.69 607.64L109.08 601.38L110.47 594.83L111.87 588.01L113.26 580.97L114.65 573.76L116.04 566.44L117.43 559.08L118.83 551.74L120.22 544.49L121.61 537.43L123 530.62L124.39 524.14L125.79 518.08L127.18 512.51L128.57 507.51L129.96 503.13L131.35 499.45L132.75 496.51L134.14 494.35L135.53 493.01L136.92 492.5L138.31 492.83L139.71 494L141.1 495.98L142.49 498.76L143.88 502.29L145.27 506.52L146.67 511.4L148.06 516.85L149.45 522.81L150.84 529.21L152.23 535.96L153.63 542.98L155.02 550.19L156.41 557.51L157.8 564.88L159.19 572.21L160.59 579.45L161.98 586.53L163.37 593.4L164.76 600.01L166.15 606.34L167.55 612.34L168.94 617.99L170.33 623.28L171.72 628.2L173.11 632.75L174.51 636.92L175.9 640.73L177.29 644.18L178.68 647.29L180.07 650.07L181.47 652.55L182.86 654.75L184.25 656.68L185.64 658.38L187.03 659.85L188.43 661.12L189.82 662.22L191.21 663.16L192.6 663.96L193.99 664.64L195.39 665.21L196.78 665.68L198.17 666.08L199.56 666.41L200.95 666.68L202.35 666.91L203.74 667.09" stroke="#ff0000" stroke-linejoin="round"/>
<path d="M36.7 667.8L38.26 667.8L39.83 667.8L41.39 667.8L42.96 667.8L44.52 667.8L46.09 667.8L47.65 667.8L49.21 667.8L50.78 667.8L52.34 667.8L53.91 667.8L55.47 667.8L57.03 667.8L58.6 667.8L60.16 667.8L61.73 667.8L63.29 667.8L64.86 667.8L66.42 667.8L67.98 667.8L69.55 667.8L71.11 667.8L72.68 667.8L74.24 667.8L75.8 667.8L77.37 667.8L78.93 667.8L80.5 667.8L82.06 667.8L83.62 667.8L85.19 667.8L86.75 667.8L88.32 667.79L89.88 667.79L91.45 667.79L93.01 667.78L94.57 667.77L96.14 667.76L97.7 667.75L99.27 667.74L100.83 667.71L102.4 667.68L103.96 667.65L105.52 667.6L107.09 667.54L108.65 667.47L110.22 667.38L111.78 667.26L113.34 667.13L114.91 666.96L116.47 666.76L118.04 666.52L119.6 666.25L121.17 665.92L122.73 665.55L124.29 665.13L125.86 664.65L127.42 664.11L128.99 663.52L130.55 662.86L132.11 662.16L133.68 661.41L135.24 660.61L136.81 659.77L138.37 658.91L139.94 658.04L141.5 657.16L143.06 656.3L144.63 655.46L146.19 654.67L147.76 653.93L149.32 653.28L150.88 652.71L152.45 652.24L154.01 651.88L155.58 651.64L157.14 651.53L158.71 651.55L160.27 651.7L161.83 651.97L163.4 652.36L164.96 652.86L166.53 653.45L168.09 654.13L169.65 654.88L171.22 655.69L172.78 656.54L174.35 657.41L175.91 658.28L177.48 659.16L179.04 660.01L180.6 660.84L182.17 661.62L183.73 662.36L185.3 663.05L186.86 663.69L188.42 664.27L189.99 664.79L191.55 665.25L193.12 665.66L194.68 666.02L196.25 666.33L197.81 666.6L199.37 666.82L200.94 667.01L202.5 667.17L204.07 667.3L205.63 667.4L207.19 667.49L208.76 667.56L210.32 667.62L211.89 667.66L213.45 667.69L215.01 667.72L216.58 667.74L218.14 667.76L219.71 667.77L221.27 667.78L222.84 667.78L224.4 667.79" stroke="#0000ff" stroke-linejoin="round"/>
</g>
<g fill="#000000" stroke="#000000" stroke-width="0.18" font-family="'Liberation Sans', sans-serif" font-size="11.5">
<text x="33.15" y="668.17" text-anchor="end" letter-spacing="0.55">0</text>
<text x="33.15" y="630.72" text-anchor="end" letter-spacing="0.55">20</text>
<text x="33.15" y="589.52" text-anchor="end" letter-spacing="0.55">40</text>
<text x="33.15" y="548.32" text-anchor="end" letter-spacing="0.55">60</text>
<text x="33.15" y="507.12" text-anchor="end" letter-spacing="0.55">80</text>
<text x="43.6" y="684.8" letter-spacing="0.55">0</text>
<text x="85.45" y="684.8" letter-spacing="0.55">1</text>
<text x="127.3" y="684.8" letter-spacing="0.55">2</text>
<text x="169.15" y="684.8" letter-spacing="0.55">3</text>
<text x="211" y="684.8" letter-spacing="0.55">4</text>
<text transform="translate(7.92 579.95) rotate(-90) scale(0.9 1)" text-anchor="middle">N</text>
<text y="698.3"><tspan x="95.31" letter-spacing="0.47">log</tspan><tspan x="118.01" letter-spacing="0">E</tspan><tspan x="124.82" dy="2.7" font-size="8" font-weight="bold" stroke="none" letter-spacing="0">p</tspan><tspan x="135.31" dy="-2.7" letter-spacing="0.36">(keV)</tspan></text>
</g>
</g>
<g id="panel6">
<path d="M318.8 491.1H506.7V667.8H318.8ZM323.29 667.8v-1.9M323.29 491.1v1.9M332.68 667.8v-1.9M332.68 491.1v1.9M342.07 667.8v-1.9M342.07 491.1v1.9M351.46 667.8v-1.9M351.46 491.1v1.9M360.85 667.8v-3.6M360.85 491.1v3.6M370.24 667.8v-1.9M370.24 491.1v1.9M379.63 667.8v-1.9M379.63 491.1v1.9M389.02 667.8v-1.9M389.02 491.1v1.9M398.41 667.8v-1.9M398.41 491.1v1.9M407.8 667.8v-3.6M407.8 491.1v3.6M417.19 667.8v-1.9M417.19 491.1v1.9M426.58 667.8v-1.9M426.58 491.1v1.9M435.97 667.8v-1.9M435.97 491.1v1.9M445.36 667.8v-1.9M445.36 491.1v1.9M454.75 667.8v-3.6M454.75 491.1v3.6M464.14 667.8v-1.9M464.14 491.1v1.9M473.53 667.8v-1.9M473.53 491.1v1.9M482.92 667.8v-1.9M482.92 491.1v1.9M492.31 667.8v-1.9M492.31 491.1v1.9M501.7 667.8v-3.6M501.7 491.1v3.6M318.8 667.8h3.6M506.7 667.8h-3.6M318.8 661.46h1.9M506.7 661.46h-1.9M318.8 655.12h1.9M506.7 655.12h-1.9M318.8 648.78h1.9M506.7 648.78h-1.9M318.8 642.44h1.9M506.7 642.44h-1.9M318.8 636.1h3.6M506.7 636.1h-3.6M318.8 629.76h1.9M506.7 629.76h-1.9M318.8 623.42h1.9M506.7 623.42h-1.9M318.8 617.08h1.9M506.7 617.08h-1.9M318.8 610.74h1.9M506.7 610.74h-1.9M318.8 604.4h3.6M506.7 604.4h-3.6M318.8 598.06h1.9M506.7 598.06h-1.9M318.8 591.72h1.9M506.7 591.72h-1.9M318.8 585.38h1.9M506.7 585.38h-1.9M318.8 579.04h1.9M506.7 579.04h-1.9M318.8 572.7h3.6M506.7 572.7h-3.6M318.8 566.36h1.9M506.7 566.36h-1.9M318.8 560.02h1.9M506.7 560.02h-1.9M318.8 553.68h1.9M506.7 553.68h-1.9M318.8 547.34h1.9M506.7 547.34h-1.9M318.8 541h3.6M506.7 541h-3.6M318.8 534.66h1.9M506.7 534.66h-1.9M318.8 528.32h1.9M506.7 528.32h-1.9M318.8 521.98h1.9M506.7 521.98h-1.9M318.8 515.64h1.9M506.7 515.64h-1.9M318.8 509.3h3.6M506.7 509.3h-3.6M318.8 502.96h1.9M506.7 502.96h-1.9M318.8 496.62h1.9M506.7 496.62h-1.9" fill="none" stroke="#c8c8c8" stroke-width="0.85"/>
<g clip-path="url(#c5)" fill="none" stroke-width="1.6" stroke-linejoin="miter">
<path d="M323.29 667.8V661.46H332.68V648.78H342.07V655.12H351.46V598.06H360.85V623.42H370.24V604.4H379.63V528.32H389.02V528.32H398.41V509.3H407.8V459.4H417.19V515.64H426.58V591.72H435.97V591.72H445.36V648.78H454.75V642.44H464.14V648.78H473.53V648.78H482.92V642.44H492.31V661.46H501.7V667.8H506.7" stroke="#ff0000"/>
<path d="M318.8 667.8H323.29V667.8H332.68V667.8H342.07V667.8H351.46V667.8H360.85V667.8H370.24V667.8H379.63V667.8H389.02V667.8H398.41V661.46H407.8V667.8H417.19V661.46H426.58V655.12H435.97V648.78H445.36V648.78H454.75V667.8H464.14V655.12H473.53V655.12H482.92V661.46H492.31V665.9H496.07V667.8H501.7V667.8H506.7" stroke="#0000ff"/>
<path d="M318.8 663.52L320.37 662.94L321.93 662.31L323.5 661.6L325.06 660.82L326.63 659.96L328.19 659.01L329.76 657.96L331.33 656.82L332.89 655.58L334.46 654.23L336.02 652.75L337.59 651.16L339.16 649.44L340.72 647.59L342.29 645.6L343.85 643.48L345.42 641.21L346.99 638.79L348.55 636.23L350.12 633.51L351.68 630.65L353.25 627.64L354.81 624.48L356.38 621.19L357.95 617.75L359.51 614.19L361.08 610.5L362.64 606.69L364.21 602.78L365.77 598.78L367.34 594.7L368.91 590.55L370.47 586.35L372.04 582.11L373.6 577.87L375.17 573.62L376.74 569.4L378.3 565.22L379.87 561.11L381.43 557.08L383 553.16L384.56 549.38L386.13 545.74L387.7 542.28L389.26 539.01L390.83 535.96L392.39 533.14L393.96 530.57L395.53 528.27L397.09 526.26L398.66 524.54L400.22 523.13L401.79 522.03L403.36 521.26L404.92 520.82L406.49 520.72L408.05 520.94L409.62 521.5L411.18 522.39L412.75 523.6L414.32 525.13L415.88 526.95L417.45 529.07L419.01 531.47L420.58 534.13L422.14 537.04L423.71 540.17L425.28 543.51L426.84 547.03L428.41 550.73L429.97 554.56L431.54 558.52L433.11 562.58L434.67 566.72L436.24 570.92L437.8 575.15L439.37 579.4L440.94 583.65L442.5 587.87L444.07 592.05L445.63 596.18L447.2 600.24L448.76 604.21L450.33 608.08L451.9 611.84L453.46 615.49L455.03 619.01L456.59 622.39L458.16 625.64L459.73 628.74L461.29 631.7L462.86 634.51L464.42 637.17L465.99 639.68L467.55 642.04L469.12 644.26L470.69 646.34L472.25 648.28L473.82 650.08L475.38 651.75L476.95 653.3L478.51 654.73L480.08 656.04L481.65 657.25L483.21 658.35L484.78 659.36L486.34 660.28L487.91 661.11L489.48 661.86L491.04 662.54L492.61 663.16L494.17 663.71L495.74 664.2L497.31 664.64L498.87 665.04L500.44 665.39L502 665.7L503.57 665.97L505.13 666.22L506.7 666.43" stroke="#ff0000" stroke-linejoin="round"/>
<path d="M318.8 667.8L320.37 667.8L321.93 667.8L323.5 667.8L325.06 667.8L326.63 667.8L328.19 667.8L329.76 667.8L331.33 667.8L332.89 667.8L334.46 667.8L336.02 667.8L337.59 667.8L339.16 667.8L340.72 667.8L342.29 667.8L343.85 667.8L345.42 667.8L346.99 667.8L348.55 667.8L350.12 667.8L351.68 667.79L353.25 667.79L354.81 667.79L356.38 667.79L357.95 667.78L359.51 667.78L361.08 667.77L362.64 667.77L364.21 667.76L365.77 667.75L367.34 667.74L368.91 667.72L370.47 667.7L372.04 667.68L373.6 667.66L375.17 667.63L376.74 667.59L378.3 667.55L379.87 667.5L381.43 667.44L383 667.37L384.56 667.29L386.13 667.2L387.7 667.1L389.26 666.98L390.83 666.85L392.39 666.7L393.96 666.53L395.53 666.34L397.09 666.13L398.66 665.9L400.22 665.64L401.79 665.36L403.36 665.05L404.92 664.72L406.49 664.36L408.05 663.97L409.62 663.56L411.18 663.12L412.75 662.66L414.32 662.18L415.88 661.67L417.45 661.15L419.01 660.62L420.58 660.07L422.14 659.52L423.71 658.96L425.28 658.41L426.84 657.86L428.41 657.32L429.97 656.79L431.54 656.29L433.11 655.82L434.67 655.38L436.24 654.97L437.8 654.6L439.37 654.28L440.94 654.01L442.5 653.79L444.07 653.63L445.63 653.52L447.2 653.47L448.76 653.49L450.33 653.55L451.9 653.68L453.46 653.86L455.03 654.1L456.59 654.39L458.16 654.73L459.73 655.11L461.29 655.53L462.86 655.98L464.42 656.47L465.99 656.97L467.55 657.5L469.12 658.05L470.69 658.6L472.25 659.16L473.82 659.71L475.38 660.26L476.95 660.81L478.51 661.34L480.08 661.85L481.65 662.35L483.21 662.82L484.78 663.28L486.34 663.7L487.91 664.11L489.48 664.48L491.04 664.83L492.61 665.16L494.17 665.46L495.74 665.73L497.31 665.98L498.87 666.21L500.44 666.41L502 666.59L503.57 666.75L505.13 666.9L506.7 667.03" stroke="#0000ff" stroke-linejoin="round"/>
</g>
<g fill="#000000" stroke="#000000" stroke-width="0.18" font-family="'Liberation Sans', sans-serif" font-size="11.5">
<text x="315.25" y="668.17" text-anchor="end" letter-spacing="0.55">0</text>
<text x="315.25" y="640.22" text-anchor="end" letter-spacing="0.55">5</text>
<text x="315.25" y="608.52" text-anchor="end" letter-spacing="0.55">10</text>
<text x="315.25" y="576.82" text-anchor="end" letter-spacing="0.55">15</text>
<text x="315.25" y="545.12" text-anchor="end" letter-spacing="0.55">20</text>
<text x="315.25" y="513.42" text-anchor="end" letter-spacing="0.55">25</text>
<text x="347.36" y="684.8" letter-spacing="0.55"><tspan font-size="16" dy="1.35" letter-spacing="0.26">−</tspan><tspan dy="-1.35">1.5</tspan></text>
<text x="394.31" y="684.8" letter-spacing="0.55"><tspan font-size="16" dy="1.35" letter-spacing="0.26">−</tspan><tspan dy="-1.35">1.0</tspan></text>
<text x="441.26" y="684.8" letter-spacing="0.55"><tspan font-size="16" dy="1.35" letter-spacing="0.26">−</tspan><tspan dy="-1.35">0.5</tspan></text>
<text x="493.16" y="684.8" letter-spacing="0.55">0.0</text>
<text transform="translate(290.52 579.95) rotate(-90) scale(0.9 1)" text-anchor="middle">N</text>
<text y="698.3"><tspan x="408.01" font-weight="bold" font-style="italic" letter-spacing="0">α</tspan></text>
</g>
</g>
<g id="panel7">
<path d="M36.7 735.1H224.4V912.6H36.7ZM40.4 912.6v-1.9M40.4 735.1v1.9M47.6 912.6v-1.9M47.6 735.1v1.9M54.8 912.6v-1.9M54.8 735.1v1.9M62 912.6v-1.9M62 735.1v1.9M69.2 912.6v-3.6M69.2 735.1v3.6M76.4 912.6v-1.9M76.4 735.1v1.9M83.6 912.6v-1.9M83.6 735.1v1.9M90.8 912.6v-1.9M90.8 735.1v1.9M98 912.6v-1.9M98 735.1v1.9M105.2 912.6v-3.6M105.2 735.1v3.6M112.4 912.6v-1.9M112.4 735.1v1.9M119.6 912.6v-1.9M119.6 735.1v1.9M126.8 912.6v-1.9M126.8 735.1v1.9M134 912.6v-1.9M134 735.1v1.9M141.2 912.6v-3.6M141.2 735.1v3.6M148.4 912.6v-1.9M148.4 735.1v1.9M155.6 912.6v-1.9M155.6 735.1v1.9M162.8 912.6v-1.9M162.8 735.1v1.9M170 912.6v-1.9M170 735.1v1.9M177.2 912.6v-3.6M177.2 735.1v3.6M184.4 912.6v-1.9M184.4 735.1v1.9M191.6 912.6v-1.9M191.6 735.1v1.9M198.8 912.6v-1.9M198.8 735.1v1.9M206 912.6v-1.9M206 735.1v1.9M213.2 912.6v-3.6M213.2 735.1v3.6M220.4 912.6v-1.9M220.4 735.1v1.9M36.7 912.6h3.6M224.4 912.6h-3.6M36.7 905.5h1.9M224.4 905.5h-1.9M36.7 898.4h1.9M224.4 898.4h-1.9M36.7 891.3h1.9M224.4 891.3h-1.9M36.7 884.2h1.9M224.4 884.2h-1.9M36.7 877.1h3.6M224.4 877.1h-3.6M36.7 870h1.9M224.4 870h-1.9M36.7 862.9h1.9M224.4 862.9h-1.9M36.7 855.8h1.9M224.4 855.8h-1.9M36.7 848.7h1.9M224.4 848.7h-1.9M36.7 841.6h3.6M224.4 841.6h-3.6M36.7 834.5h1.9M224.4 834.5h-1.9M36.7 827.4h1.9M224.4 827.4h-1.9M36.7 820.3h1.9M224.4 820.3h-1.9M36.7 813.2h1.9M224.4 813.2h-1.9M36.7 806.1h3.6M224.4 806.1h-3.6M36.7 799h1.9M224.4 799h-1.9M36.7 791.9h1.9M224.4 791.9h-1.9M36.7 784.8h1.9M224.4 784.8h-1.9M36.7 777.7h1.9M224.4 777.7h-1.9M36.7 770.6h3.6M224.4 770.6h-3.6M36.7 763.5h1.9M224.4 763.5h-1.9M36.7 756.4h1.9M224.4 756.4h-1.9M36.7 749.3h1.9M224.4 749.3h-1.9M36.7 742.2h1.9M224.4 742.2h-1.9M36.7 735.1h3.6M224.4 735.1h-3.6" fill="none" stroke="#c8c8c8" stroke-width="0.85"/>
<g clip-path="url(#c6)" fill="none" stroke-width="1.6" stroke-linejoin="miter">
<path d="M40.4 912.6V898.4H47.6V912.6H54.8V912.6H62V877.1H69.2V806.1H76.4V820.3H83.6V756.4H90.8V699.6H98V777.7H105.2V770.6H112.4V763.5H119.6V763.5H126.8V855.8H134V862.9H141.2V848.7H148.4V848.7H155.6V898.4H162.8V862.9H170V884.2H177.2V870H184.4V905.5H191.6V898.4H198.8V898.4H206V898.4H213.2V905.5H220.4V912.6H224.4" stroke="#ff0000"/>
<path d="M36.7 912.6H40.4V912.6H47.6V912.6H54.8V912.6H62V912.6H69.2V912.6H76.4V912.6H83.6V912.6H90.8V912.6H98V912.6H105.2V912.6H112.4V891.3H119.6V891.3H126.8V905.5H134V891.3H141.2V905.5H148.4V884.2H155.6V877.1H162.8V905.5H170V912.6H177.2V891.3H184.4V905.5H191.6V898.4H198.8V905.5H206V912.6H213.2V912.6H220.4V912.6H224.4" stroke="#0000ff"/>
<path d="M36.8 903.85L38.36 902.84L39.93 901.73L41.49 900.52L43.05 899.21L44.62 897.8L46.18 896.26L47.74 894.61L49.31 892.84L50.87 890.94L52.43 888.91L54 886.75L55.56 884.45L57.12 882.02L58.69 879.46L60.25 876.75L61.81 873.91L63.38 870.94L64.94 867.85L66.5 864.63L68.07 861.29L69.63 857.84L71.19 854.29L72.76 850.65L74.32 846.92L75.88 843.13L77.45 839.28L79.01 835.39L80.57 831.48L82.14 827.56L83.7 823.64L85.26 819.76L86.83 815.92L88.39 812.14L89.95 808.45L91.52 804.87L93.08 801.4L94.64 798.09L96.21 794.93L97.77 791.96L99.33 789.19L100.9 786.64L102.46 784.31L104.02 782.24L105.59 780.43L107.15 778.89L108.71 777.64L110.28 776.67L111.84 776.01L113.4 775.64L114.97 775.58L116.53 775.83L118.09 776.38L119.66 777.23L121.22 778.37L122.78 779.8L124.35 781.51L125.91 783.48L127.47 785.71L129.04 788.17L130.6 790.86L132.16 793.76L133.73 796.84L135.29 800.1L136.85 803.51L138.42 807.05L139.98 810.7L141.54 814.45L143.11 818.26L144.67 822.13L146.23 826.04L147.8 829.96L149.36 833.88L150.92 837.78L152.49 841.64L154.05 845.46L155.61 849.21L157.18 852.89L158.74 856.47L160.3 859.96L161.87 863.34L163.43 866.61L164.99 869.76L166.56 872.78L168.12 875.67L169.68 878.42L171.25 881.04L172.81 883.53L174.37 885.88L175.94 888.09L177.5 890.17L179.06 892.12L180.63 893.94L182.19 895.64L183.75 897.22L185.32 898.68L186.88 900.03L188.44 901.27L190.01 902.42L191.57 903.47L193.13 904.43L194.7 905.3L196.26 906.1L197.82 906.82L199.39 907.47L200.95 908.06L202.51 908.59L204.08 909.07L205.64 909.5L207.2 909.88L208.77 910.22L210.33 910.52L211.89 910.79L213.46 911.02L215.02 911.23L216.58 911.42L218.15 911.58L219.71 911.72L221.27 911.84L222.84 911.95L224.4 912.04" stroke="#ff0000" stroke-linejoin="round"/>
<path d="M36.8 912.6L38.36 912.6L39.93 912.6L41.49 912.6L43.05 912.6L44.62 912.6L46.18 912.59L47.74 912.59L49.31 912.59L50.87 912.59L52.43 912.58L54 912.58L55.56 912.58L57.12 912.57L58.69 912.56L60.25 912.55L61.81 912.54L63.38 912.53L64.94 912.52L66.5 912.5L68.07 912.48L69.63 912.45L71.19 912.42L72.76 912.38L74.32 912.34L75.88 912.29L77.45 912.24L79.01 912.17L80.57 912.1L82.14 912.01L83.7 911.91L85.26 911.79L86.83 911.66L88.39 911.52L89.95 911.35L91.52 911.16L93.08 910.96L94.64 910.72L96.21 910.46L97.77 910.18L99.33 909.86L100.9 909.52L102.46 909.14L104.02 908.74L105.59 908.29L107.15 907.82L108.71 907.31L110.28 906.76L111.84 906.19L113.4 905.57L114.97 904.93L116.53 904.26L118.09 903.56L119.66 902.83L121.22 902.08L122.78 901.32L124.35 900.53L125.91 899.74L127.47 898.95L129.04 898.15L130.6 897.37L132.16 896.59L133.73 895.83L135.29 895.1L136.85 894.39L138.42 893.73L139.98 893.11L141.54 892.53L143.11 892.01L144.67 891.55L146.23 891.15L147.8 890.82L149.36 890.56L150.92 890.38L152.49 890.27L154.05 890.24L155.61 890.28L157.18 890.4L158.74 890.59L160.3 890.86L161.87 891.2L163.43 891.61L164.99 892.08L166.56 892.61L168.12 893.19L169.68 893.82L171.25 894.49L172.81 895.2L174.37 895.93L175.94 896.69L177.5 897.47L179.06 898.26L180.63 899.06L182.19 899.85L183.75 900.64L185.32 901.42L186.88 902.19L188.44 902.93L190.01 903.65L191.57 904.35L193.13 905.02L194.7 905.66L196.26 906.27L197.82 906.84L199.39 907.38L200.95 907.88L202.51 908.36L204.08 908.79L205.64 909.2L207.2 909.57L208.77 909.91L210.33 910.22L211.89 910.5L213.46 910.76L215.02 910.98L216.58 911.19L218.15 911.37L219.71 911.54L221.27 911.68L222.84 911.81L224.4 911.92" stroke="#0000ff" stroke-linejoin="round"/>
</g>
<g fill="#000000" stroke="#000000" stroke-width="0.18" font-family="'Liberation Sans', sans-serif" font-size="11.5">
<text x="33.15" y="912.97" text-anchor="end" letter-spacing="0.55">0</text>
<text x="33.15" y="881.22" text-anchor="end" letter-spacing="0.55">5</text>
<text x="33.15" y="845.72" text-anchor="end" letter-spacing="0.55">10</text>
<text x="33.15" y="810.22" text-anchor="end" letter-spacing="0.55">15</text>
<text x="33.15" y="774.72" text-anchor="end" letter-spacing="0.55">20</text>
<text x="33.15" y="743.12" text-anchor="end" letter-spacing="0.55">25</text>
<text x="55.71" y="929.6" letter-spacing="0.55"><tspan font-size="16" dy="1.35" letter-spacing="0.26">−</tspan><tspan dy="-1.35">1.0</tspan></text>
<text x="91.71" y="929.6" letter-spacing="0.55"><tspan font-size="16" dy="1.35" letter-spacing="0.26">−</tspan><tspan dy="-1.35">0.5</tspan></text>
<text x="132.66" y="929.6" letter-spacing="0.55">0.0</text>
<text x="168.66" y="929.6" letter-spacing="0.55">0.5</text>
<text x="204.66" y="929.6" letter-spacing="0.55">1.0</text>
<text transform="translate(7.92 824.35) rotate(-90) scale(0.9 1)" text-anchor="middle">N</text>
<text y="943.2"><tspan x="103.21" letter-spacing="0.44">log</tspan><tspan x="126.11" letter-spacing="0.65">(f</tspan><tspan dy="1.35" font-size="16" letter-spacing="0.65">−</tspan><tspan dy="-1.35" letter-spacing="0.65">1)</tspan></text>
</g>
</g>
<g id="panel8">
<path d="M318.8 735.1H506.7V912.6H318.8ZM321.2 912.6v-1.9M321.2 735.1v1.9M327.3 912.6v-3.6M327.3 735.1v3.6M333.4 912.6v-1.9M333.4 735.1v1.9M339.5 912.6v-1.9M339.5 735.1v1.9M345.6 912.6v-1.9M345.6 735.1v1.9M351.7 912.6v-1.9M351.7 735.1v1.9M357.8 912.6v-3.6M357.8 735.1v3.6M363.9 912.6v-1.9M363.9 735.1v1.9M370 912.6v-1.9M370 735.1v1.9M376.1 912.6v-1.9M376.1 735.1v1.9M382.2 912.6v-1.9M382.2 735.1v1.9M388.3 912.6v-3.6M388.3 735.1v3.6M394.4 912.6v-1.9M394.4 735.1v1.9M400.5 912.6v-1.9M400.5 735.1v1.9M406.6 912.6v-1.9M406.6 735.1v1.9M412.7 912.6v-1.9M412.7 735.1v1.9M418.8 912.6v-3.6M418.8 735.1v3.6M424.9 912.6v-1.9M424.9 735.1v1.9M431 912.6v-1.9M431 735.1v1.9M437.1 912.6v-1.9M437.1 735.1v1.9M443.2 912.6v-1.9M443.2 735.1v1.9M449.3 912.6v-3.6M449.3 735.1v3.6M455.4 912.6v-1.9M455.4 735.1v1.9M461.5 912.6v-1.9M461.5 735.1v1.9M467.6 912.6v-1.9M467.6 735.1v1.9M473.7 912.6v-1.9M473.7 735.1v1.9M479.8 912.6v-3.6M479.8 735.1v3.6M485.9 912.6v-1.9M485.9 735.1v1.9M492 912.6v-1.9M492 735.1v1.9M498.1 912.6v-1.9M498.1 735.1v1.9M504.2 912.6v-1.9M504.2 735.1v1.9M318.8 912.6h3.6M506.7 912.6h-3.6M318.8 907.38h1.9M506.7 907.38h-1.9M318.8 902.16h1.9M506.7 902.16h-1.9M318.8 896.94h1.9M506.7 896.94h-1.9M318.8 891.72h1.9M506.7 891.72h-1.9M318.8 886.5h3.6M506.7 886.5h-3.6M318.8 881.28h1.9M506.7 881.28h-1.9M318.8 876.06h1.9M506.7 876.06h-1.9M318.8 870.84h1.9M506.7 870.84h-1.9M318.8 865.62h1.9M506.7 865.62h-1.9M318.8 860.4h3.6M506.7 860.4h-3.6M318.8 855.18h1.9M506.7 855.18h-1.9M318.8 849.96h1.9M506.7 849.96h-1.9M318.8 844.74h1.9M506.7 844.74h-1.9M318.8 839.52h1.9M506.7 839.52h-1.9M318.8 834.3h3.6M506.7 834.3h-3.6M318.8 829.08h1.9M506.7 829.08h-1.9M318.8 823.86h1.9M506.7 823.86h-1.9M318.8 818.64h1.9M506.7 818.64h-1.9M318.8 813.42h1.9M506.7 813.42h-1.9M318.8 808.2h3.6M506.7 808.2h-3.6M318.8 802.98h1.9M506.7 802.98h-1.9M318.8 797.76h1.9M506.7 797.76h-1.9M318.8 792.54h1.9M506.7 792.54h-1.9M318.8 787.32h1.9M506.7 787.32h-1.9M318.8 782.1h3.6M506.7 782.1h-3.6M318.8 776.88h1.9M506.7 776.88h-1.9M318.8 771.66h1.9M506.7 771.66h-1.9M318.8 766.44h1.9M506.7 766.44h-1.9M318.8 761.22h1.9M506.7 761.22h-1.9M318.8 756h3.6M506.7 756h-3.6M318.8 750.78h1.9M506.7 750.78h-1.9M318.8 745.56h1.9M506.7 745.56h-1.9M318.8 740.34h1.9M506.7 740.34h-1.9M318.8 735.12h1.9M506.7 735.12h-1.9" fill="none" stroke="#c8c8c8" stroke-width="0.85"/>
<g clip-path="url(#c7)" fill="none" stroke-width="1.6" stroke-linejoin="miter">
<path d="M321.2 912.6V902.16H327.3V912.6H333.4V912.6H339.5V912.6H345.6V891.72H351.7V876.06H357.8V912.6H363.9V849.96H370V865.62H376.1V802.98H382.2V761.22H388.3V709H394.4V813.42H400.5V797.76H406.6V834.3H412.7V849.96H418.8V855.18H424.9V886.5H431V881.28H437.1V907.38H443.2V902.16H449.3V912.6H455.4" stroke="#ff0000"/>
<path d="M318.8 912.6H321.2V912.6H327.3V912.6H333.4V912.6H339.5V912.6H345.6V912.6H351.7V912.6H357.8V912.6H363.9V912.6H370V912.6H376.1V912.6H382.2V912.6H388.3V912.6H394.4V912.6H400.5V912.6H406.6V912.6H412.7V912.6H418.8V912.6H424.9V896.94H431V886.5H437.1V907.38H443.2V902.16H449.3V902.16H455.4V891.72H461.5V891.72H467.6V912.6H473.7V912.6H479.8V896.94H485.9V902.16H492V907.38H498.1V907.38H504.2V912.6H506.7" stroke="#0000ff"/>
<path d="M318.8 912.44L320.37 912.38L321.93 912.32L323.5 912.23L325.06 912.12L326.63 911.99L328.19 911.82L329.76 911.6L331.33 911.34L332.89 911.02L334.46 910.62L336.02 910.14L337.59 909.57L339.16 908.87L340.72 908.05L342.29 907.07L343.85 905.93L345.42 904.6L346.99 903.05L348.55 901.27L350.12 899.24L351.68 896.94L353.25 894.34L354.81 891.44L356.38 888.21L357.95 884.66L359.51 880.78L361.08 876.57L362.64 872.03L364.21 867.19L365.77 862.07L367.34 856.69L368.91 851.1L370.47 845.34L372.04 839.47L373.6 833.54L375.17 827.63L376.74 821.8L378.3 816.14L379.87 810.71L381.43 805.6L383 800.89L384.56 796.64L386.13 792.93L387.7 789.82L389.26 787.35L390.83 785.57L392.39 784.51L393.96 784.19L395.53 784.61L397.09 785.77L398.66 787.65L400.22 790.21L401.79 793.41L403.36 797.2L404.92 801.52L406.49 806.29L408.05 811.45L409.62 816.91L411.18 822.6L412.75 828.45L414.32 834.36L415.88 840.29L417.45 846.15L419.01 851.89L420.58 857.45L422.15 862.8L423.71 867.88L425.28 872.68L426.84 877.17L428.41 881.34L429.97 885.18L431.54 888.68L433.11 891.86L434.67 894.72L436.24 897.27L437.8 899.54L439.37 901.53L440.94 903.28L442.5 904.79L444.07 906.1L445.63 907.22L447.2 908.17L448.76 908.98L450.33 909.65L451.9 910.22L453.46 910.68L455.03 911.07L456.59 911.38L458.16 911.64L459.73 911.84L461.29 912.01L462.86 912.14L464.42 912.25L465.99 912.33L467.55 912.39L469.12 912.44L470.69 912.48L472.25 912.51L473.82 912.53L475.38 912.55L476.95 912.56L478.51 912.57L480.08 912.58L481.65 912.59L483.21 912.59L484.78 912.59L486.34 912.59L487.91 912.6L489.48 912.6L491.04 912.6L492.61 912.6L494.17 912.6L495.74 912.6L497.3 912.6L498.87 912.6L500.44 912.6L502 912.6L503.57 912.6L505.13 912.6L506.7 912.6" stroke="#ff0000" stroke-linejoin="round"/>
<path d="M318.8 912.6L320.37 912.6L321.93 912.6L323.5 912.6L325.06 912.6L326.63 912.6L328.19 912.6L329.76 912.6L331.33 912.6L332.89 912.6L334.46 912.6L336.02 912.6L337.59 912.6L339.16 912.6L340.72 912.6L342.29 912.6L343.85 912.6L345.42 912.6L346.99 912.6L348.55 912.6L350.12 912.6L351.68 912.6L353.25 912.6L354.81 912.6L356.38 912.6L357.95 912.6L359.51 912.6L361.08 912.6L362.64 912.6L364.21 912.6L365.77 912.6L367.34 912.59L368.91 912.59L370.47 912.59L372.04 912.59L373.6 912.58L375.17 912.58L376.74 912.57L378.3 912.57L379.87 912.56L381.43 912.55L383 912.53L384.56 912.52L386.13 912.5L387.7 912.47L389.26 912.44L390.83 912.41L392.39 912.36L393.96 912.31L395.53 912.25L397.09 912.18L398.66 912.1L400.22 912L401.79 911.89L403.36 911.76L404.92 911.61L406.49 911.44L408.05 911.24L409.62 911.02L411.18 910.78L412.75 910.51L414.32 910.21L415.88 909.87L417.45 909.51L419.01 909.11L420.58 908.68L422.15 908.22L423.71 907.73L425.28 907.21L426.84 906.66L428.41 906.08L429.97 905.48L431.54 904.86L433.11 904.23L434.67 903.59L436.24 902.94L437.8 902.3L439.37 901.66L440.94 901.04L442.5 900.45L444.07 899.88L445.63 899.34L447.2 898.85L448.76 898.41L450.33 898.02L451.9 897.69L453.46 897.43L455.03 897.23L456.59 897.1L458.16 897.05L459.73 897.06L461.29 897.15L462.86 897.31L464.42 897.54L465.99 897.84L467.55 898.2L469.12 898.61L470.69 899.08L472.25 899.59L473.82 900.14L475.38 900.73L476.95 901.33L478.51 901.96L480.08 902.6L481.65 903.25L483.21 903.89L484.78 904.53L486.34 905.16L487.91 905.77L489.48 906.35L491.04 906.92L492.61 907.46L494.17 907.97L495.74 908.44L497.3 908.89L498.87 909.3L500.44 909.69L502 910.03L503.57 910.35L505.13 910.64L506.7 910.9" stroke="#0000ff" stroke-linejoin="round"/>
</g>
<g fill="#000000" stroke="#000000" stroke-width="0.18" font-family="'Liberation Sans', sans-serif" font-size="11.5">
<text x="315.25" y="912.97" text-anchor="end" letter-spacing="0.55">0</text>
<text x="315.25" y="890.62" text-anchor="end" letter-spacing="0.55">5</text>
<text x="315.25" y="864.52" text-anchor="end" letter-spacing="0.55">10</text>
<text x="315.25" y="838.42" text-anchor="end" letter-spacing="0.55">15</text>
<text x="315.25" y="812.32" text-anchor="end" letter-spacing="0.55">20</text>
<text x="315.25" y="786.22" text-anchor="end" letter-spacing="0.55">25</text>
<text x="315.25" y="760.12" text-anchor="end" letter-spacing="0.55">30</text>
<text x="313.81" y="929.6" letter-spacing="0.55"><tspan font-size="16" dy="1.35" letter-spacing="0.26">−</tspan><tspan dy="-1.35">2.0</tspan></text>
<text x="344.31" y="929.6" letter-spacing="0.55"><tspan font-size="16" dy="1.35" letter-spacing="0.26">−</tspan><tspan dy="-1.35">1.5</tspan></text>
<text x="374.81" y="929.6" letter-spacing="0.55"><tspan font-size="16" dy="1.35" letter-spacing="0.26">−</tspan><tspan dy="-1.35">1.0</tspan></text>
<text x="405.31" y="929.6" letter-spacing="0.55"><tspan font-size="16" dy="1.35" letter-spacing="0.26">−</tspan><tspan dy="-1.35">0.5</tspan></text>
<text x="440.76" y="929.6" letter-spacing="0.55">0.0</text>
<text x="471.26" y="929.6" letter-spacing="0.55">0.5</text>
<text transform="translate(290.52 824.35) rotate(-90) scale(0.9 1)" text-anchor="middle">N</text>
<text y="943.2"><tspan x="380.61" letter-spacing="0.44">log</tspan><tspan x="403.01" letter-spacing="1.47">(f</tspan><tspan x="412.62" dy="2.7" font-size="8" font-weight="bold" stroke="none" letter-spacing="0.46">eff</tspan><tspan x="422.61" dy="-1.35" font-size="16" letter-spacing="0.43">−</tspan><tspan dy="-1.35" letter-spacing="0.43">1)</tspan></text>
</g>
</g>
</svg>
</body>
</html>
